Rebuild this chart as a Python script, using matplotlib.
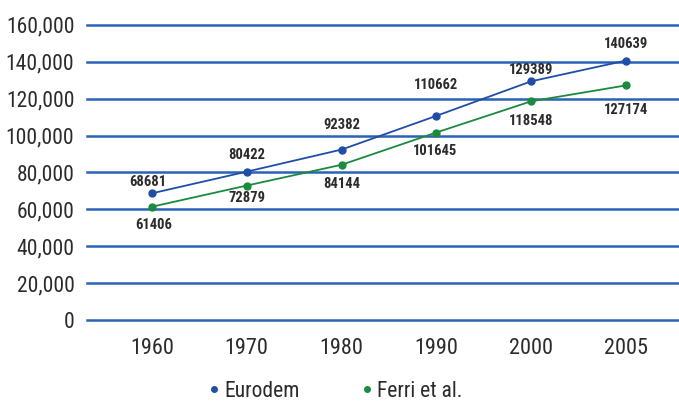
import matplotlib
matplotlib.use("Agg")
import matplotlib.pyplot as plt
from matplotlib import font_manager

years = ["1960", "1970", "1980", "1990", "2000", "2005"]
eurodem = [68681, 80422, 92382, 110662, 129389, 140639]
ferri = [61406, 72879, 84144, 101645, 118548, 127174]
y_ticks = [0, 20000, 40000, 60000, 80000, 100000, 120000, 140000, 160000]

# label offsets in points (dx, dy)
eurodem_offsets = [(-3, 8), (0, 12), (0, 18), (0, 22), (0, 8), (0, 12)]
ferri_offsets = [(1, -13), (0, -9), (0, -14), (-1, -13), (0, -14), (0, -18)]

names = {f.name for f in font_manager.fontManager.ttflist}
FONT = "Liberation Sans"
for cand in ["Liberation Sans Narrow", "Roboto Condensed", "Open Sans Condensed", "DejaVu Sans Condensed"]:
    if cand in names:
        FONT = cand
        break
plt.rcParams["font.family"] = [FONT, "DejaVu Sans"]

BLUE = "#1f4ea8"
GREEN = "#1b8a3e"
GRID = "#2a62b4"
TEXT = "#2b2b2b"

fig = plt.figure(figsize=(6.79, 4.01), dpi=100)
ax = fig.add_axes([0.128, 0.202, 0.872, 0.736])

x = list(range(len(years)))
ax.set_xlim(-0.686, 5.56)
ax.set_ylim(0, 160000)

for t in y_ticks:
    ax.axhline(t, color=GRID, lw=1.8, zorder=1, clip_on=False)

ax.plot(x, eurodem, color=BLUE, lw=1.3, marker="o", ms=5, zorder=3, label="Eurodem")
ax.plot(x, ferri, color=GREEN, lw=1.3, marker="o", ms=5, zorder=3, label="Ferri et al.")

for xi, v, (dx, dy) in zip(x, eurodem, eurodem_offsets):
    ax.annotate(f"{v}", (xi, v), xytext=(dx, dy), textcoords="offset points",
                ha="center", va="center", fontsize=10.5, fontweight="bold", color=TEXT)
for xi, v, (dx, dy) in zip(x, ferri, ferri_offsets):
    ax.annotate(f"{v}", (xi, v), xytext=(dx, dy), textcoords="offset points",
                ha="center", va="center", fontsize=10.5, fontweight="bold", color=TEXT)

ax.set_yticks(y_ticks)
ax.set_yticklabels([f"{t:,}" for t in y_ticks])
ax.set_xticks(x)
ax.set_xticklabels(years)
ax.tick_params(axis="y", length=0, labelsize=15.5, colors=TEXT, pad=9)
ax.tick_params(axis="x", length=0, labelsize=16, colors=TEXT, pad=13)
for s in ax.spines.values():
    s.set_visible(False)

handles = [
    plt.Line2D([], [], color=BLUE, marker="o", ms=4, lw=0),
    plt.Line2D([], [], color=GREEN, marker="o", ms=4, lw=0),
]
fig.legend(handles, ["Eurodem", "Ferri et al."], loc="lower center",
           bbox_to_anchor=(0.495, -0.05), ncol=2, frameon=False, fontsize=15.5,
           handlelength=0.4, handletextpad=0.3, columnspacing=2.9, labelcolor=TEXT)

fig.savefig("out.png", dpi=100, facecolor="white")
